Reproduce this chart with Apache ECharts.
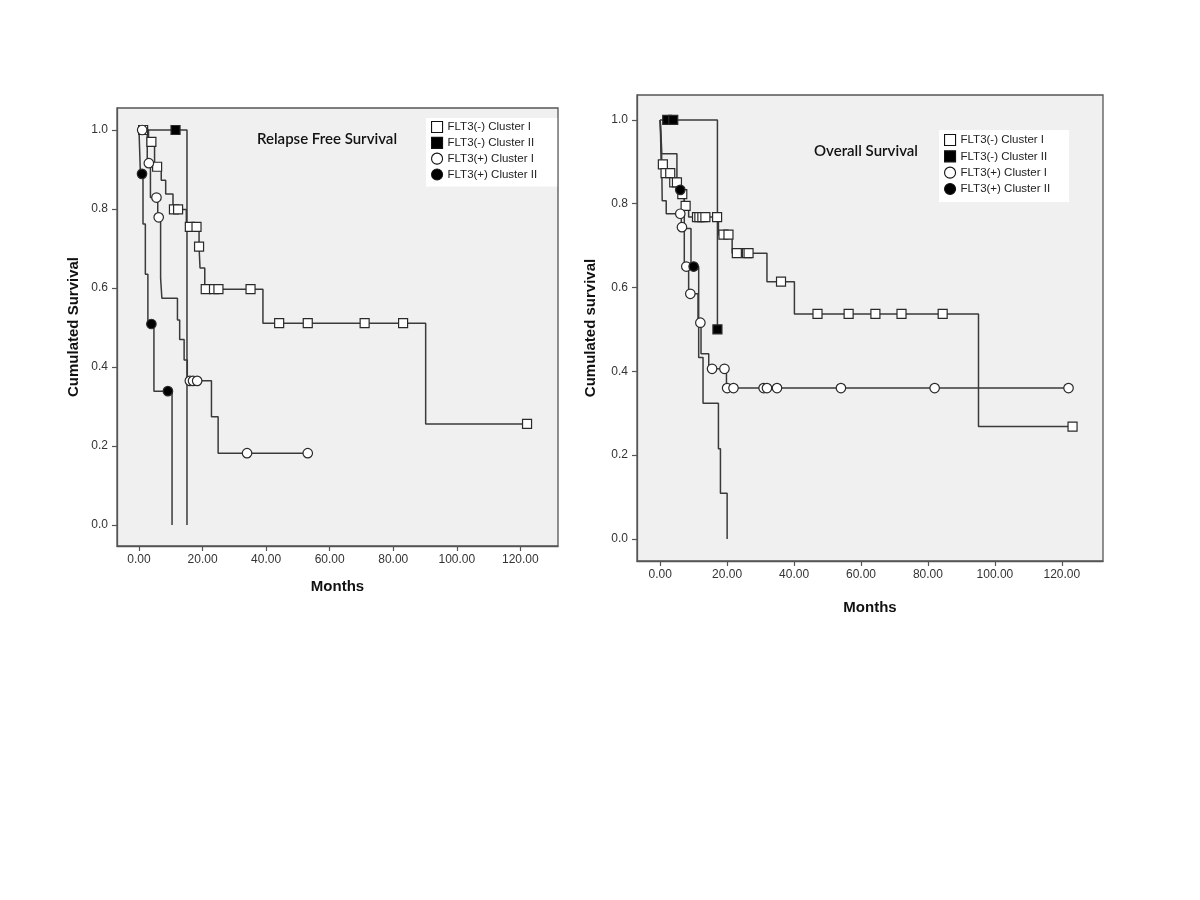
<!DOCTYPE html>
<html>
<head>
<meta charset="utf-8">
<script src="https://cdn.jsdelivr.net/npm/echarts@6/dist/echarts.min.js"></script>
<style>
  html, body { margin: 0; padding: 0; background: #ffffff; }
  #chart { width: 1200px; height: 900px; }
</style>
</head>
<body>
<div id="chart"></div>
<script>
// ---------- Data (months, cumulative survival) ----------
const SERIES_NAMES = ['FLT3(-) Cluster I', 'FLT3(-) Cluster II', 'FLT3(+) Cluster I', 'FLT3(+) Cluster II'];
const X_TICKS = [0, 20, 40, 60, 80, 100, 120];
const Y_TICKS = [0, 0.2, 0.4, 0.6, 0.8, 1.0];

// Relapse free survival (left panel)
const rfsNegI_steps = [[0,1],[3.0,0.970],[4.9,0.907],[7.0,0.873],[8.4,0.838],[10.7,0.799],[14.9,0.755],[18.9,0.705],[19.2,0.651],[20.7,0.597],[39.0,0.511],[90.2,0.256],[122.1,0.256]];
const rfsNegI_cens = [[1.3,1],[3.9,0.970],[5.7,0.907],[11.0,0.799],[12.3,0.799],[16.0,0.755],[18.1,0.755],[18.9,0.705],[21.0,0.597],[23.6,0.597],[25.0,0.597],[35.1,0.597],[44.1,0.511],[53.1,0.511],[71.0,0.511],[83.1,0.511],[122.1,0.256]];
const rfsNegII_steps = [[0,1],[15.1,0]];
const rfsNegII_cens = [[11.5,1]];
const rfsPosI_steps = [[0,1],[2.6,0.916],[3.6,0.829],[5.9,0.779],[6.8,0.625],[7.2,0.574],[12.1,0.519],[12.8,0.470],[14.2,0.418],[15.2,0.365],[22.8,0.274],[24.9,0.182],[53.1,0.182]];
const rfsPosI_cens = [[1.0,1],[3.1,0.916],[5.5,0.829],[6.2,0.779],[16.0,0.365],[17.0,0.365],[18.3,0.365],[34.0,0.182],[53.1,0.182]];
const rfsPosII_steps = [[0,1],[0.45,0.889],[1.26,0.762],[2.0,0.635],[2.8,0.509],[4.7,0.339],[10.4,0]];
const rfsPosII_cens = [[0.95,0.889],[3.9,0.509],[9.1,0.339]];

// Overall survival (right panel)
const osNegI_steps = [[0,1],[0.3,0.894],[1.2,0.873],[3.6,0.851],[6.2,0.823],[7.2,0.795],[8.5,0.768],[17.4,0.726],[21.5,0.682],[31.9,0.614],[40.1,0.537],[95.1,0.268],[123.2,0.268]];
const osNegI_cens = [[0.8,0.894],[1.6,0.873],[3.0,0.873],[4.2,0.851],[5.0,0.851],[6.6,0.823],[7.6,0.795],[11.0,0.768],[11.7,0.768],[12.6,0.768],[13.5,0.768],[17.0,0.768],[18.9,0.726],[20.4,0.726],[22.9,0.682],[25.9,0.682],[26.4,0.682],[36.1,0.614],[47.0,0.537],[56.3,0.537],[64.3,0.537],[72.1,0.537],[84.4,0.537],[123.2,0.268]];
const osNegII_steps = [[0,1],[17.1,0.5]];
const osNegII_cens = [[2.1,1],[3.9,1],[17.1,0.5]];
const osPosI_steps = [[0,1],[0.4,0.936],[0.5,0.871],[0.6,0.807],[1.8,0.776],[6.3,0.744],[7.2,0.65],[8.5,0.585],[11.3,0.516],[12.2,0.442],[14.5,0.406],[19.8,0.36],[122.0,0.36]];
const osPosI_cens = [[6.0,0.776],[6.5,0.744],[7.8,0.65],[9.0,0.585],[12.0,0.516],[15.5,0.406],[19.2,0.406],[20.0,0.36],[21.9,0.36],[30.9,0.36],[31.9,0.36],[34.9,0.36],[54.0,0.36],[82.0,0.36],[122.0,0.36]];
const osPosII_steps = [[0,1],[0.4,0.919],[5.0,0.833],[7.2,0.741],[9.2,0.65],[11.5,0.433],[12.8,0.324],[17.4,0.215],[18.0,0.109],[20.0,0]];
const osPosII_cens = [[6.0,0.833],[10.0,0.65]];

// ---------- Styling ----------
const LINE_COLOR = '#3a3a3a';
const MARK_BORDER = '#2a2a2a';
const STYLES = [
  { symbol: 'rect',   fill: '#ffffff' },
  { symbol: 'rect',   fill: '#000000' },
  { symbol: 'circle', fill: '#ffffff' },
  { symbol: 'circle', fill: '#000000' }
];

function km(idx, steps, cens, axis) {
  const st = STYLES[idx];
  return [
    {
      type: 'line', name: SERIES_NAMES[idx], xAxisIndex: axis, yAxisIndex: axis,
      data: steps, step: 'end', showSymbol: false, symbol: 'none',
      lineStyle: { color: LINE_COLOR, width: 1.5 }, itemStyle: { color: LINE_COLOR },
      z: 2, animation: false, silent: true
    },
    {
      type: 'scatter', name: SERIES_NAMES[idx], xAxisIndex: axis, yAxisIndex: axis,
      data: cens, symbol: st.symbol, symbolSize: st.symbol === 'rect' ? 9 : 9.5,
      itemStyle: { color: st.fill, borderColor: MARK_BORDER, borderWidth: 1.2, opacity: 1 },
      z: 3, animation: false
    }
  ];
}

function xAxisCfg(grid, min, max, gap) {
  return {
    type: 'value', gridIndex: grid, min: min, max: max,
    name: 'Months', nameLocation: 'middle', nameGap: gap,
    nameTextStyle: { fontFamily: 'Liberation Sans', fontWeight: 'bold', fontSize: 15, color: '#111' },
    axisLine: { show: true, onZero: false, lineStyle: { color: '#555', width: 1.3 } },
    axisTick: { show: true, length: 5, customValues: X_TICKS, lineStyle: { color: '#555', width: 1.2 } },
    axisLabel: { customValues: X_TICKS, margin: 8, fontFamily: 'Liberation Sans', fontSize: 12, color: '#333',
                 formatter: v => v.toFixed(2) },
    splitLine: { show: false }
  };
}
function yAxisCfg(grid, min, max, name, gap) {
  return {
    type: 'value', gridIndex: grid, min: min, max: max,
    name: name, nameLocation: 'middle', nameGap: gap, nameRotate: 90,
    nameTextStyle: { fontFamily: 'Liberation Sans', fontWeight: 'bold', fontSize: 15, color: '#111' },
    axisLine: { show: true, onZero: false, lineStyle: { color: '#555', width: 1.3 } },
    axisTick: { show: true, length: 5, customValues: Y_TICKS, lineStyle: { color: '#555', width: 1.2 } },
    axisLabel: { customValues: Y_TICKS, margin: 9, fontFamily: 'Liberation Sans', fontSize: 12, color: '#333',
                 formatter: v => v.toFixed(1) },
    splitLine: { show: false }
  };
}
function legendCfg(left, top, padding, gap) {
  return {
    orient: 'vertical', left: left, top: top, padding: padding,
    backgroundColor: '#ffffff', itemWidth: 11, itemHeight: 11, itemGap: gap,
    selectedMode: false,
    textStyle: { fontFamily: 'Liberation Sans', fontSize: 11.5, color: '#222', lineHeight: 12 },
    data: SERIES_NAMES.map((n, i) => ({
      name: n, icon: STYLES[i].symbol,
      itemStyle: { color: STYLES[i].fill, borderColor: '#111', borderWidth: 1.1 }
    }))
  };
}

const chart = echarts.init(document.getElementById('chart'), null, { renderer: 'canvas' });
const option = {
  backgroundColor: '#ffffff',
  animation: false,
  grid: [
    { left: 117, top: 108, width: 441, height: 438, show: true, backgroundColor: '#f0f0f0', borderColor: '#555', borderWidth: 1.3 },
    { left: 637, top: 95, width: 466, height: 466, show: true, backgroundColor: '#f0f0f0', borderColor: '#555', borderWidth: 1.3 }
  ],
  xAxis: [ xAxisCfg(0, -6.92, 131.84, 33), xAxisCfg(1, -6.93, 132.3, 39) ],
  yAxis: [ yAxisCfg(0, -0.053, 1.0557, 'Cumulated Survival', 36),
           yAxisCfg(1, -0.0527, 1.0594, 'Cumulated survival', 39) ],
  legend: [ legendCfg(426, 118, [3, 20, 6, 5], 3.7), legendCfg(939, 130, [4, 19, 7, 5], 4.2) ],
  graphic: [
    { type: 'text', x: 327, y: 139, style: { text: 'Relapse Free Survival', font: '600 15px Lato', fill: '#111', align: 'center', verticalAlign: 'middle' } },
    { type: 'text', x: 866, y: 151, style: { text: 'Overall Survival', font: '600 15px Lato', fill: '#111', align: 'center', verticalAlign: 'middle' } }
  ],
  series: [].concat(
    km(0, rfsNegI_steps, rfsNegI_cens, 0),
    km(1, rfsNegII_steps, rfsNegII_cens, 0),
    km(2, rfsPosI_steps, rfsPosI_cens, 0),
    km(3, rfsPosII_steps, rfsPosII_cens, 0),
    km(0, osNegI_steps, osNegI_cens, 1),
    km(1, osNegII_steps, osNegII_cens, 1),
    km(2, osPosI_steps, osPosI_cens, 1),
    km(3, osPosII_steps, osPosII_cens, 1)
  )
};
chart.setOption(option);
</script>
</body>
</html>
